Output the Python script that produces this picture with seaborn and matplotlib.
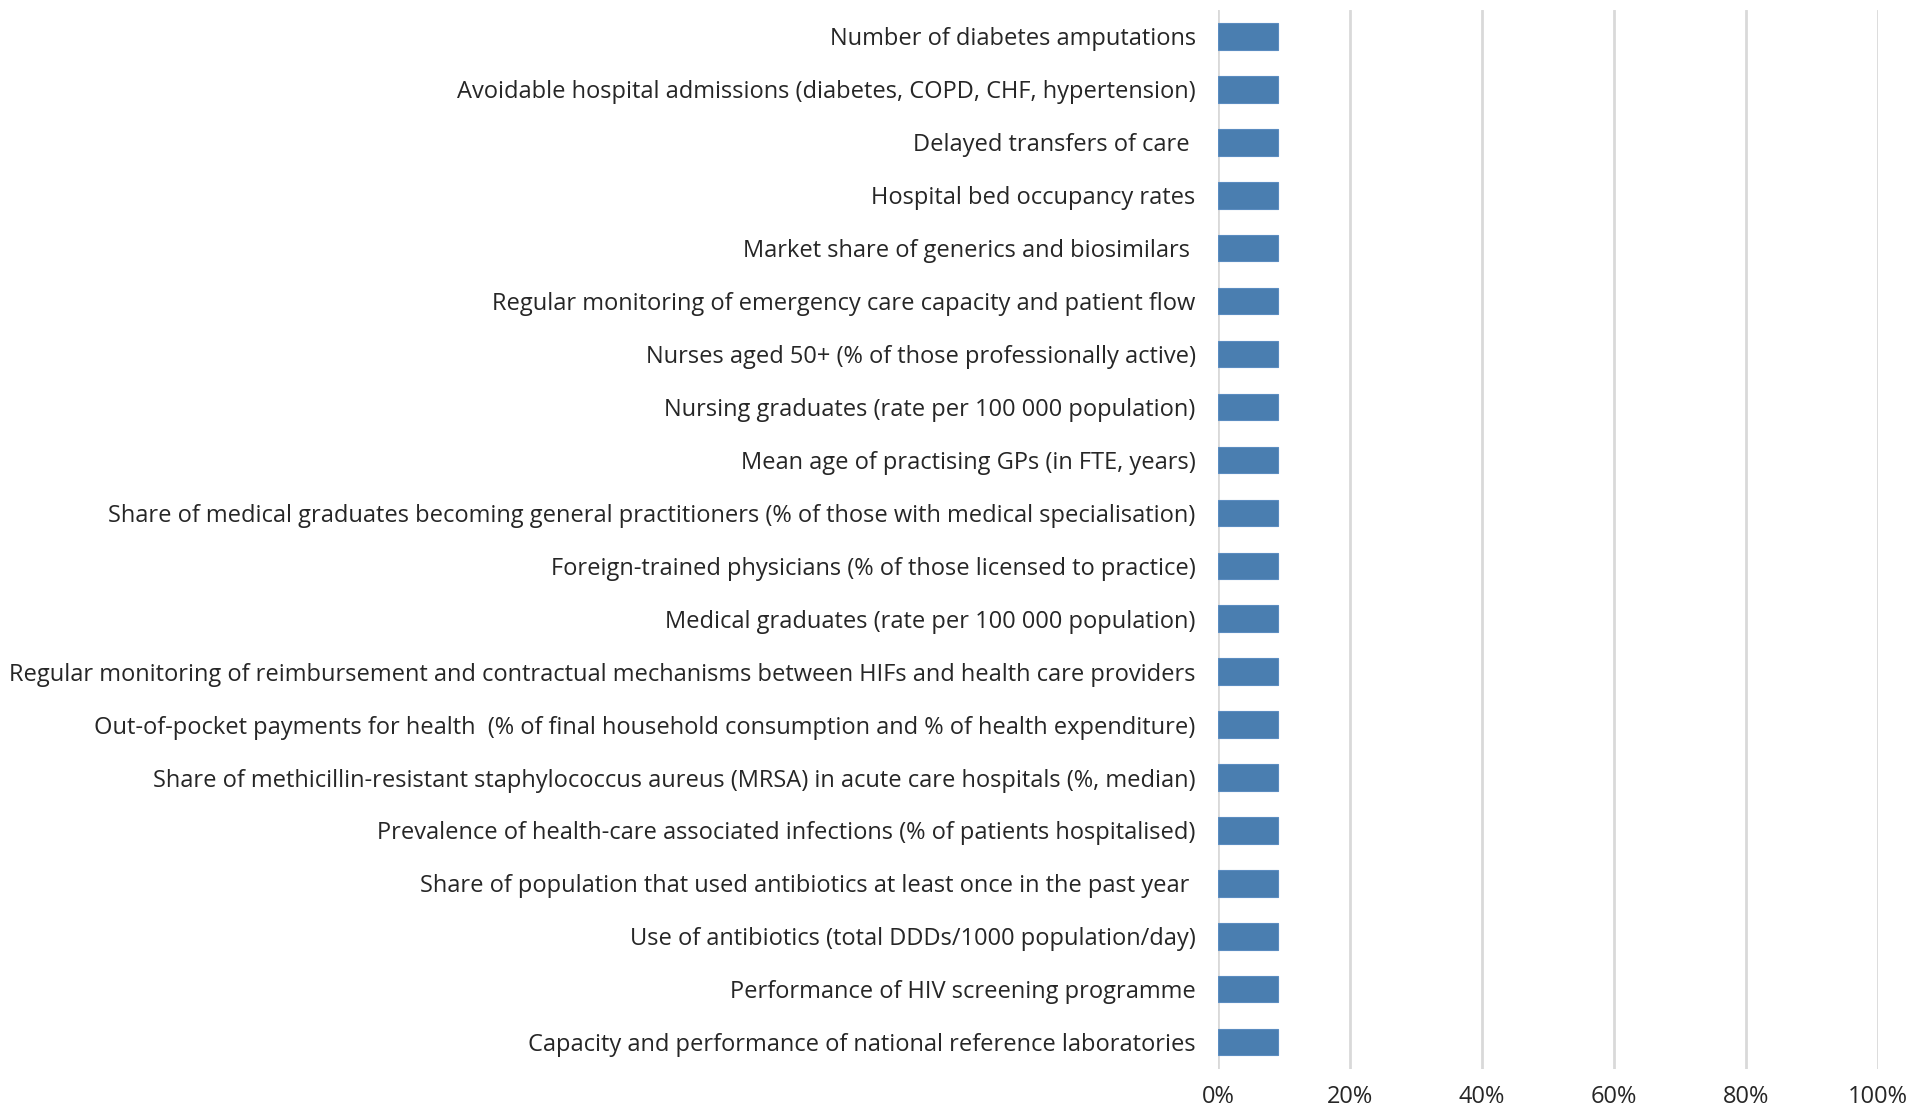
import matplotlib
matplotlib.use("Agg")
import matplotlib.pyplot as plt
import seaborn as sns
import pandas as pd
from matplotlib.ticker import PercentFormatter

categories = [
    "Number of diabetes amputations",
    "Avoidable hospital admissions (diabetes, COPD, CHF, hypertension)",
    "Delayed transfers of care ",
    "Hospital bed occupancy rates",
    "Market share of generics and biosimilars ",
    "Regular monitoring of emergency care capacity and patient flow",
    "Nurses aged 50+ (% of those professionally active)",
    "Nursing graduates (rate per 100 000 population)",
    "Mean age of practising GPs (in FTE, years)",
    "Share of medical graduates becoming general practitioners (% of those with medical specialisation)",
    "Foreign-trained physicians (% of those licensed to practice)",
    "Medical graduates (rate per 100 000 population)",
    "Regular monitoring of reimbursement and contractual mechanisms between HIFs and health care providers",
    "Out-of-pocket payments for health  (% of final household consumption and % of health expenditure)",
    "Share of methicillin-resistant staphylococcus aureus (MRSA) in acute care hospitals (%, median)",
    "Prevalence of health-care associated infections (% of patients hospitalised)",
    "Share of population that used antibiotics at least once in the past year ",
    "Use of antibiotics (total DDDs/1000 population/day)",
    "Performance of HIV screening programme",
    "Capacity and performance of national reference laboratories",
]
values = [0.0909] * 20

df = pd.DataFrame({"indicator": categories, "share": values})

sns.set_theme(style="white")
plt.rcParams["font.family"] = ["Open Sans", "DejaVu Sans"]

fig = plt.figure(figsize=(19.27, 11.12), dpi=100)
ax = fig.add_axes([0.632, 0.039, 0.3426, 0.952])

sns.barplot(data=df, y="indicator", x="share", orient="h", color="#4A7EB0",
            saturation=1, width=0.5, ax=ax, edgecolor="#5B8CC0", linewidth=0.8, zorder=3)

ax.set_xlim(0, 1)
ax.set_xticks([0, 0.2, 0.4, 0.6, 0.8, 1.0])
ax.xaxis.set_major_formatter(PercentFormatter(1.0, decimals=0))
ax.grid(axis="x", color="#D9D9D9", linewidth=2, zorder=0)
ax.grid(axis="y", visible=False)
for s in ax.spines.values():
    s.set_visible(False)
ax.set_xlabel("")
ax.set_ylabel("")
ax.tick_params(axis="both", length=0, colors="#262626", labelsize=17)
ax.tick_params(axis="y", pad=16)
ax.tick_params(axis="x", pad=12)

fig.savefig("out.png", dpi=100, facecolor="white")
